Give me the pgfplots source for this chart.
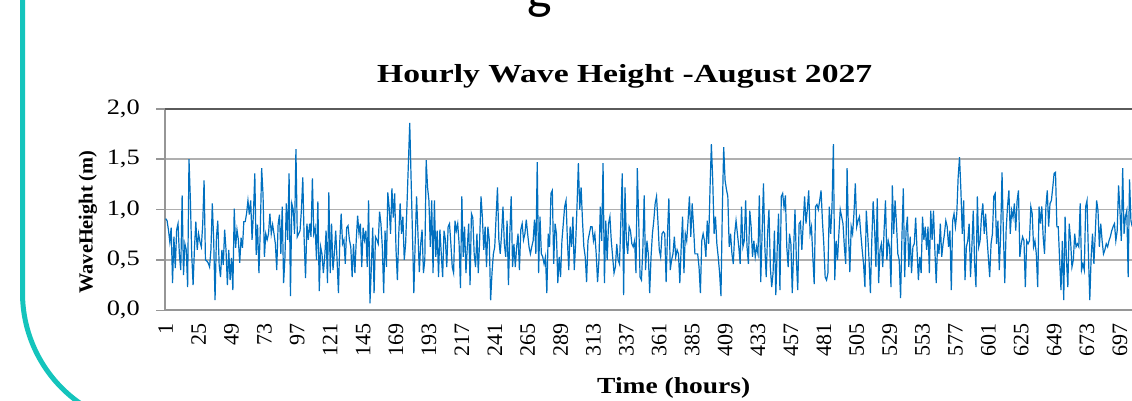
\documentclass[border=0pt]{standalone}
\usepackage{pgfplots}
\pgfplotsset{compat=1.18}
\usepackage{pgfplotstable}
\usepackage{fontspec}
\setmainfont{Liberation Serif}
\newfontfamily\wfont[FakeStretch=1.2]{Liberation Serif}
\newfontfamily\gfont{Carlito}
\definecolor{teal1}{RGB}{20,196,188}
\definecolor{lineblue}{RGB}{0,112,192}
\definecolor{gridgray}{RGB}{175,175,175}
\definecolor{axisgray}{RGB}{150,150,150}
\definecolor{topgray}{RGB}{90,90,90}

\pgfplotstableread[header=false,row sep=\\]{
0.91\\0.89\\0.80\\0.68\\0.82\\0.27\\0.73\\0.42\\0.80\\0.86\\
0.55\\0.40\\1.14\\0.35\\0.66\\0.60\\0.23\\1.50\\1.10\\0.55\\
0.25\\0.62\\0.88\\0.60\\0.76\\0.68\\0.63\\0.85\\1.29\\0.50\\
0.49\\0.47\\0.43\\0.60\\1.06\\0.70\\0.10\\0.72\\0.89\\0.45\\
0.33\\0.60\\0.45\\0.80\\0.60\\0.25\\0.60\\0.30\\0.52\\0.20\\
1.01\\0.62\\0.80\\0.70\\0.47\\0.72\\0.62\\0.88\\0.88\\0.96\\
1.09\\0.95\\1.09\\0.70\\0.96\\1.36\\0.55\\0.85\\0.37\\0.80\\
1.41\\1.15\\0.53\\0.76\\0.70\\0.76\\0.96\\0.76\\0.85\\0.76\\
0.66\\0.40\\0.85\\0.95\\
0.56\\1.03\\0.27\\0.53\\1.06\\0.70\\1.36\\0.14\\1.06\\1.00\\
0.76\\1.60\\0.73\\0.76\\0.79\\1.00\\1.32\\0.70\\0.32\\0.86\\
0.70\\0.86\\0.73\\1.31\\0.76\\0.82\\0.50\\1.08\\0.19\\0.63\\
0.56\\0.37\\0.53\\0.79\\0.27\\1.17\\0.37\\0.86\\0.40\\0.56\\
0.79\\0.50\\0.17\\0.69\\0.96\\0.66\\0.70\\0.46\\0.82\\0.84\\
0.70\\0.63\\0.33\\0.66\\0.37\\0.70\\0.94\\0.76\\0.86\\0.43\\
0.82\\0.70\\0.79\\0.43\\1.09\\0.07\\0.43\\0.82\\0.17\\0.73\\
0.70\\0.66\\0.98\\0.86\\0.63\\0.17\\0.79\\0.43\\1.17\\1.02\\
0.76\\1.21\\0.92\\1.16\\0.60\\0.30\\0.76\\1.06\\
0.76\\0.93\\0.50\\0.66\\1.05\\1.45\\1.86\\1.30\\0.76\\0.17\\
0.69\\1.13\\0.76\\0.38\\0.66\\0.80\\0.37\\0.50\\1.49\\1.22\\
1.09\\0.63\\1.09\\0.37\\1.09\\0.53\\0.79\\0.33\\0.80\\0.56\\
0.33\\0.79\\0.70\\0.43\\0.83\\0.86\\0.66\\0.43\\0.37\\0.89\\
0.79\\0.86\\0.66\\0.22\\1.13\\0.53\\0.83\\0.37\\0.63\\0.86\\
0.25\\0.96\\0.92\\0.56\\0.43\\0.76\\0.37\\0.70\\1.13\\0.92\\
0.60\\0.83\\0.43\\0.83\\0.70\\0.10\\0.37\\0.56\\0.63\\0.93\\
1.22\\0.70\\0.56\\0.76\\1.03\\0.66\\0.53\\0.89\\0.25\\0.76\\
1.13\\0.43\\0.66\\0.43\\0.63\\0.76\\0.40\\
0.80\\0.86\\0.70\\0.76\\0.90\\0.76\\0.63\\0.56\\0.63\\0.69\\
0.90\\0.56\\1.47\\0.37\\0.93\\0.56\\0.53\\0.46\\0.53\\0.17\\
0.76\\0.63\\1.16\\1.19\\0.46\\0.86\\0.76\\0.27\\0.53\\0.33\\
0.69\\0.86\\1.03\\1.09\\0.69\\0.40\\0.83\\0.63\\0.93\\0.40\\
0.66\\1.03\\1.46\\1.00\\1.22\\0.89\\0.63\\0.53\\0.28\\0.69\\
0.76\\0.83\\0.83\\0.69\\0.76\\0.56\\0.28\\0.50\\1.03\\0.69\\
1.46\\0.27\\0.89\\0.50\\0.86\\0.93\\0.69\\0.53\\0.37\\0.43\\
0.66\\0.50\\0.46\\0.89\\1.36\\0.15\\1.22\\0.69\\0.56\\0.83\\
0.79\\0.66\\0.63\\0.69\\0.37\\1.41\\0.89\\0.33\\
0.30\\0.60\\1.14\\0.40\\0.69\\0.56\\0.17\\0.53\\0.76\\0.89\\
1.06\\1.13\\0.89\\0.60\\0.53\\0.76\\0.78\\0.76\\0.28\\0.76\\
1.11\\0.40\\0.50\\0.56\\0.73\\0.53\\0.60\\0.56\\0.27\\0.63\\
0.93\\0.37\\0.76\\0.69\\0.89\\1.13\\0.73\\1.06\\0.83\\0.56\\
0.56\\0.56\\0.43\\0.17\\0.69\\0.76\\0.69\\0.53\\0.89\\0.66\\
1.20\\1.65\\1.29\\0.76\\0.93\\0.66\\0.53\\0.37\\0.14\\1.00\\
1.62\\1.29\\1.20\\1.13\\0.63\\0.76\\0.56\\0.46\\0.76\\0.89\\
0.76\\0.63\\0.46\\1.03\\0.63\\0.69\\1.09\\0.63\\0.46\\0.99\\
0.83\\0.53\\0.69\\0.53\\0.63\\0.56\\1.14\\
0.28\\0.76\\1.26\\0.63\\0.33\\0.76\\1.00\\0.43\\0.23\\0.37\\
0.79\\0.15\\0.60\\0.96\\0.20\\1.13\\1.16\\1.02\\1.14\\0.63\\
0.43\\0.76\\0.66\\0.17\\0.60\\1.00\\0.50\\0.20\\0.86\\0.88\\
0.60\\0.86\\1.13\\0.86\\1.00\\1.19\\0.76\\0.83\\0.53\\0.26\\
1.03\\1.05\\1.00\\1.09\\1.19\\0.89\\0.66\\0.33\\0.30\\0.37\\
1.03\\0.76\\1.03\\1.65\\0.30\\0.69\\0.50\\0.76\\1.00\\0.93\\
0.86\\0.63\\0.46\\1.41\\0.76\\0.38\\0.83\\0.76\\0.96\\1.26\\
0.83\\0.89\\0.93\\0.76\\0.60\\0.46\\0.23\\0.99\\0.76\\0.50\\
0.17\\0.69\\1.08\\0.83\\0.43\\1.11\\0.27\\0.60\\
0.66\\0.43\\0.80\\1.09\\0.50\\0.69\\0.63\\0.23\\1.24\\0.76\\
1.09\\0.86\\0.56\\0.50\\0.12\\0.73\\1.21\\0.33\\0.79\\0.93\\
0.43\\0.73\\0.37\\0.63\\0.66\\0.92\\0.60\\0.30\\0.53\\0.37\\
0.93\\0.70\\0.83\\0.60\\0.83\\0.37\\0.99\\0.70\\0.99\\0.60\\
0.27\\0.66\\0.56\\0.86\\0.53\\0.66\\0.76\\0.89\\0.83\\0.63\\
0.79\\0.20\\0.89\\0.96\\0.83\\0.96\\1.32\\1.52\\1.19\\0.76\\
1.09\\0.30\\0.63\\0.69\\0.86\\0.33\\0.63\\0.99\\0.46\\0.23\\
1.13\\0.63\\0.69\\0.93\\1.06\\0.76\\0.96\\0.73\\0.53\\0.33\\
0.66\\0.76\\1.13\\1.16\\0.66\\0.89\\0.40\\
0.76\\1.37\\0.76\\0.27\\0.80\\1.03\\1.19\\0.76\\0.99\\0.92\\
1.06\\0.79\\1.09\\1.19\\0.53\\0.66\\0.73\\0.69\\0.23\\0.69\\
0.66\\0.69\\1.03\\0.96\\0.63\\0.69\\0.56\\0.23\\1.03\\0.86\\
1.03\\0.73\\0.56\\1.03\\1.19\\0.83\\1.06\\1.09\\1.22\\1.36\\
1.37\\0.83\\0.83\\0.50\\0.20\\0.69\\0.10\\0.93\\0.50\\0.23\\
0.86\\0.69\\0.43\\0.50\\0.76\\0.63\\0.66\\0.63\\1.06\\0.40\\
0.46\\0.40\\1.03\\1.09\\0.56\\0.10\\0.53\\0.76\\0.46\\0.76\\
1.09\\0.99\\0.63\\0.86\\0.69\\0.56\\0.60\\0.66\\0.63\\0.69\\
0.73\\0.79\\0.83\\0.86\\0.69\\0.79\\1.24\\0.99\\0.69\\1.41\\
0.76\\0.93\\0.99\\0.33\\1.30\\0.89\\0.83\\
}\wave

\begin{document}
\begin{tikzpicture}
\useasboundingbox (0pt,0pt) rectangle (1132pt,400pt);
\fill[white] (0pt,0pt) rectangle (1132pt,400pt);
\draw[teal1, line width=5pt] (22.5pt,405pt) -- (22.5pt,107pt) arc[start angle=180, end angle=240, radius=134.5pt];
\node[anchor=base, inner sep=0pt] at (540pt,391pt) {\gfont\fontsize{52}{60}\selectfont g};
\begin{axis}[
  at={(165pt,89.7pt)}, anchor=south west,
  scale only axis, width=967pt, height=201.5pt,
  xmin=0.5, xmax=705.8, ymin=0, ymax=2,
  axis x line*=bottom, axis y line*=left,
  axis line style={-, draw=axisgray, line width=2pt},
  ytick={0,0.5,1,1.5,2},
  yticklabels={{0,0},{0,5},{1,0},{1,5},{2,0}},
  ymajorgrids, grid style={draw=gridgray, line width=1.6pt},
  xtick=\empty,
  tick align=outside,
  major tick length=9pt,
  ytick style={draw=axisgray, line width=1.5pt},
  yticklabel style={font=\wfont\fontsize{22}{24}\selectfont, anchor=east, inner sep=0pt, xshift=-16pt},
]
\addplot[lineblue, line width=1.2pt] table[x expr=\coordindex+1, y index=0] {\wave};
\end{axis}
\foreach \h in {1,25,49,73,97,121,145,169,193,217,241,265,289,313,337,361,385,409,433,457,481,505,529,553,577,601,625,649,673,697} {
  \pgfmathsetmacro{\xp}{165+(\h-0.5)*1.37105}
  \node[rotate=90, anchor=east, inner sep=0pt] at (\xp pt, 77pt) {\fontsize{22}{24}\selectfont\h};
}
\draw[topgray, line width=1.5pt] (165pt,291.2pt) -- (1132pt,291.2pt);
\node[anchor=base west, inner sep=0pt] at (377pt,318pt) {\resizebox{495pt}{\height}{\fontsize{26}{30}\selectfont\bfseries Hourly Wave Height -August 2027}};
\node[anchor=base west, inner sep=0pt] at (597pt,7pt) {\resizebox{153pt}{\height}{\fontsize{23}{26}\selectfont\bfseries Time (hours)}};
\node[rotate=90, inner sep=0pt] at (88pt,178pt) {\resizebox{143pt}{\height}{\fontsize{20}{24}\selectfont\bfseries WaveHeight (m)}};
\end{tikzpicture}
\end{document}
